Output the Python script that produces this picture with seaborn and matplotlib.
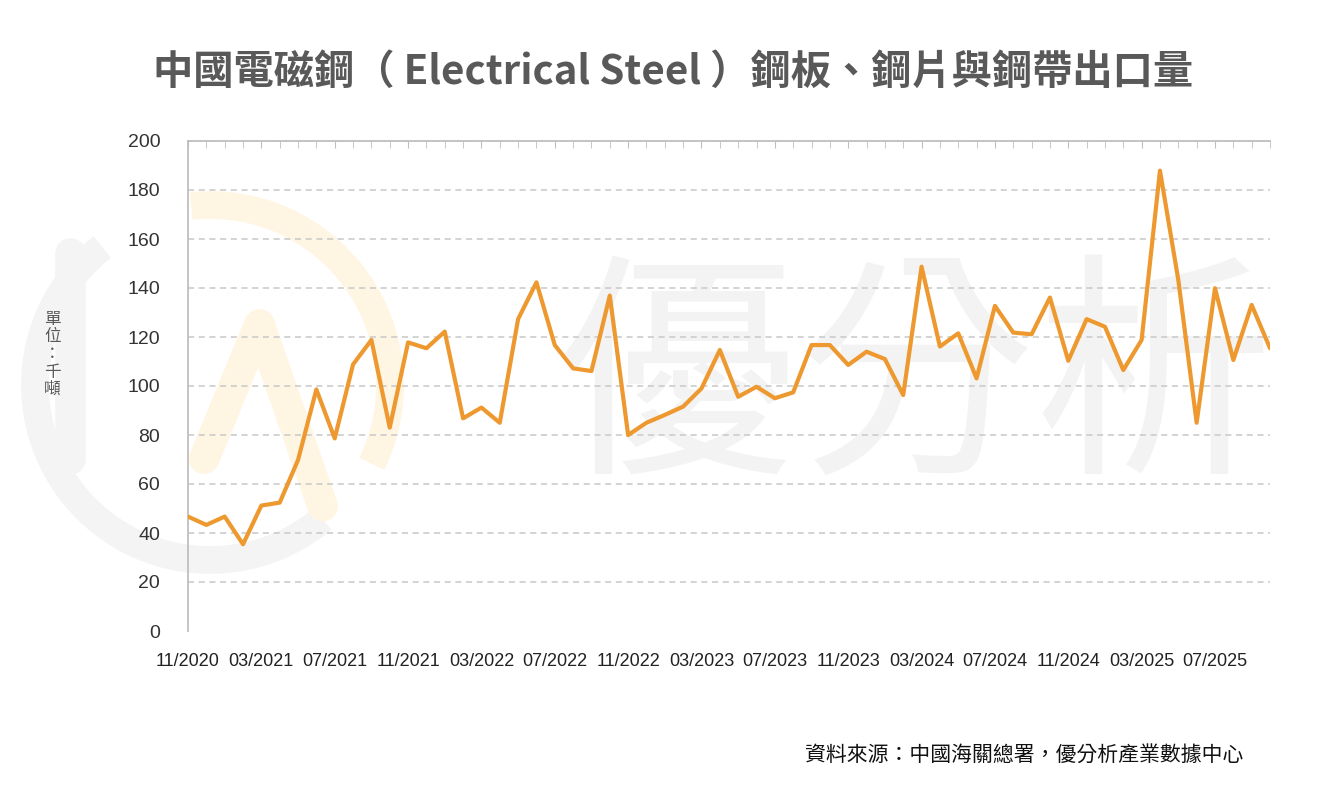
import matplotlib
matplotlib.use("Agg")
import matplotlib.pyplot as plt
from matplotlib.patches import Arc
import seaborn as sns
import pandas as pd
import numpy as np

# monthly export volume, thousand tonnes, 11/2020 .. 10/2025
months = pd.period_range("2020-11", "2025-10", freq="M").strftime("%m/%Y").tolist()
export_kt = [46.7, 43.3, 46.7, 35.4, 51.2, 52.4, 69.8, 98.6, 78.6, 108.8,
             118.8, 83.0, 117.8, 115.4, 122.2, 86.8, 91.2, 85.0, 127.3, 142.3,
             116.7, 107.2, 106.1, 136.9, 80.0, 85.0, 88.2, 91.6, 99.0, 114.7,
             95.6, 99.7, 95.0, 97.4, 116.7, 116.7, 108.6, 114.0, 111.0, 96.3,
             148.7, 116.1, 121.5, 103.1, 132.7, 121.8, 121.1, 136.1, 110.3, 127.3,
             124.2, 106.5, 118.8, 187.9, 143.3, 85.0, 139.9, 110.6, 133.1, 115.4]
y_ticks = [0, 20, 40, 60, 80, 100, 120, 140, 160, 180, 200]

title = "中國電磁鋼（ Electrical Steel ）鋼板、鋼片與鋼帶出口量"
unit_label = "單位：千噸"
source = "資料來源：中國海關總署，優分析產業數據中心"

df = pd.DataFrame({"idx": np.arange(len(months)), "month": months, "value": export_kt})

sns.set_style("white")
cjk = ["Noto Sans CJK TC", "DejaVu Sans"]
plt.rcParams["font.family"] = cjk

fig = plt.figure(figsize=(13.17, 7.91), dpi=100)
ax = fig.add_axes([188 / 1317, 1 - 631 / 791, (1270 - 188) / 1317, (631 - 141) / 791])
ax.set_zorder(2)
ax.patch.set_alpha(0)

# watermark (logo + name), behind the plot
fig.text(0.695, 0.51, "優分析", fontsize=172, color="#f3f3f3", ha="center", va="center",
         family=cjk, weight="light", zorder=0)
fig.add_artist(Arc((2.10, 4.06), 3.5, 3.5, theta1=128, theta2=310, lw=20,
                   color="#f4f4f4", transform=fig.dpi_scale_trans, zorder=0))
fig.add_artist(Arc((2.10, 4.06), 3.6, 3.6, theta1=-26, theta2=96, lw=20,
                   color="#fff5e3", transform=fig.dpi_scale_trans, zorder=0))
fig.add_artist(plt.Line2D([0.053, 0.053], [0.42, 0.68], lw=22, color="#f4f4f4",
                          solid_capstyle="round", transform=fig.transFigure, zorder=0))
fig.add_artist(plt.Line2D([0.155, 0.197, 0.245], [0.42, 0.59, 0.36], lw=22, color="#fff5e3",
                          solid_capstyle="round", solid_joinstyle="round",
                          transform=fig.transFigure, zorder=0))

sns.lineplot(data=df, x="idx", y="value", ax=ax, color="#EE9930", linewidth=3.0, zorder=3)

ax.set_xlim(0, len(months) - 1)
ax.set_ylim(0, 200)
ax.set_yticks(y_ticks)
ax.set_yticklabels([str(v) for v in y_ticks], fontsize=14, color="#333333", family="Liberation Sans")
ax.set_xticks(df["idx"][::4])
ax.set_xticklabels(df["month"][::4], fontsize=13, color="#222222", family="Liberation Sans")
ax.set_xticks(df["idx"], minor=True)
ax.tick_params(axis="x", which="both", bottom=False, top=True, direction="in",
               length=5, color="#bfbfbf", labelbottom=True, pad=16)
ax.tick_params(axis="y", length=6, color="#bfbfbf", pad=14)
ax.grid(axis="y", color="#c8c8c8", linestyle=(0, (4, 3)), linewidth=1.1)
ax.grid(axis="x", visible=False)
ax.get_ygridlines()[0].set_visible(False)
for side in ["bottom", "right"]:
    ax.spines[side].set_visible(False)
for side in ["top", "left"]:
    ax.spines[side].set_color("#bfbfbf")
    ax.spines[side].set_linewidth(1.3)
ax.set_xlabel("")
ax.set_ylabel("")

fig.text(0.511, 0.909, title, fontsize=29, fontweight="bold", color="#595959",
         ha="center", va="center")
fig.text(0.040, 0.552, "\n".join(unit_label), fontsize=12, color="#595959",
         ha="center", va="center", linespacing=1.05)
fig.text(0.944, 0.046, source, fontsize=15, color="#111111", ha="right", va="center")

fig.savefig("out.png", dpi=100)
